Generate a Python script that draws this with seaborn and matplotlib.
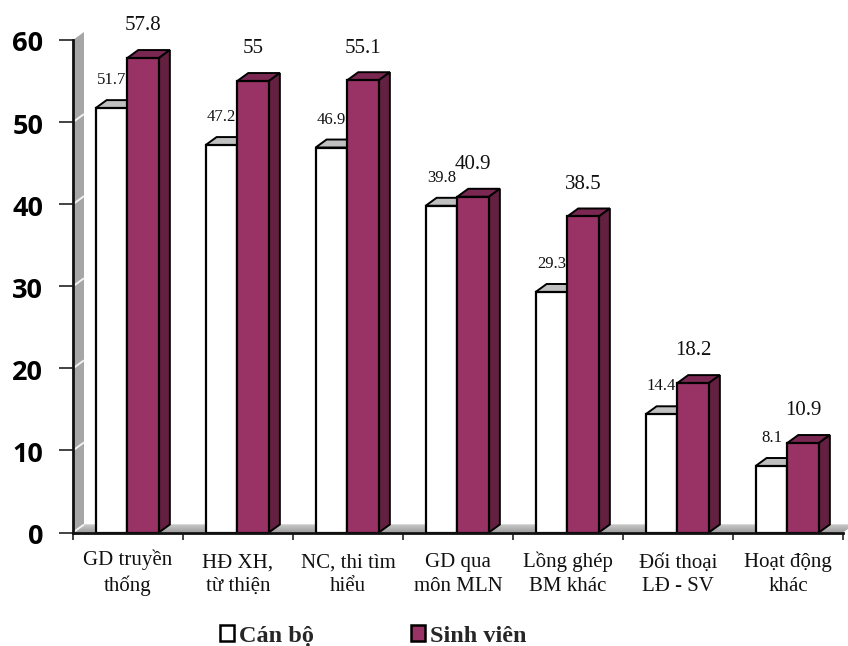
import matplotlib
matplotlib.use("Agg")
import matplotlib.pyplot as plt
from matplotlib.patches import Polygon, Patch
from matplotlib.transforms import ScaledTranslation
import pandas as pd
import seaborn as sns

categories = ["GD truyền\nthống", "HĐ XH,\ntừ thiện", "NC, thi tìm\nhiểu", "GD qua\nmôn MLN",
              "Lồng ghép\nBM khác", "Đối thoại\nLĐ - SV", "Hoạt động\nkhác"]
can_bo = [51.7, 47.2, 46.9, 39.8, 29.3, 14.4, 8.1]
sinh_vien = [57.8, 55, 55.1, 40.9, 38.5, 18.2, 10.9]
series_names = ["Cán bộ", "Sinh viên"]

W, H = 848, 646
LEFT, RIGHT, TOP, BOTTOM = 73, 843, 40, 532.5
DEPTH_X, DEPTH_Y = 11, 8
BAR_SHIFT = 0.007  # bars sit slightly left of the category centre

sns.set_theme(style="white")
plt.rcParams["font.family"] = ["Liberation Serif", "DejaVu Sans"]

fig = plt.figure(figsize=(W / 100, H / 100), dpi=100, facecolor="white")
ax = fig.add_axes([LEFT / W, 1 - BOTTOM / H, (RIGHT - LEFT) / W, (BOTTOM - TOP) / H])

df = pd.DataFrame({
    "category": categories * 2,
    "value": can_bo + sinh_vien,
    "series": [series_names[0]] * len(categories) + [series_names[1]] * len(categories),
})
sns.barplot(data=df, x="category", y="value", hue="series", hue_order=series_names,
            palette=["white", "#993366"], width=0.575, gap=0, saturation=1,
            edgecolor="black", linewidth=1.6, legend=False, ax=ax, zorder=5)

x_lo, x_hi = -0.5 + BAR_SHIFT, 6.5 + BAR_SHIFT
ax.set_xlim(x_lo, x_hi)
ax.set_ylim(0, 60)
dx = DEPTH_X * 7 / (RIGHT - LEFT)
dy = DEPTH_Y * 60 / (BOTTOM - TOP)

# Back wall with pale gridlines, and the shaded floor of the 3-D frame
ax.add_patch(Polygon([(x_lo, 0), (x_lo + dx, dy), (x_lo + dx, 60 + dy), (x_lo, 60)],
                     closed=True, fc="#a6a6a6", ec="none", clip_on=False, zorder=1))
for tick in range(0, 60, 10):
    ax.plot([x_lo, x_lo + dx], [tick, tick + dy], color="#f2f2f2", lw=1.4,
            clip_on=False, zorder=2, solid_capstyle="butt")
bands = 8
for i in range(bands):
    y0, y1 = dy * i / bands, dy * (i + 1) / bands
    shade = 0.5 + 0.2 * i / (bands - 1)
    ax.add_patch(Polygon([(x_lo + dx * i / bands, y0), (x_hi + dx * i / bands, y0),
                          (x_hi + dx * (i + 1) / bands, y1), (x_lo + dx * (i + 1) / bands, y1)],
                         closed=True, fc=str(shade), ec="none", clip_on=False, zorder=1.5))

# Extruded top and side faces for each bar
face_styles = [("#c0c0c0", "#c0c0c0", 4.1), ("#7a2852", "#632040", 4.5)]
for container, (top_color, side_color, face_z) in zip(ax.containers, face_styles):
    for bar in container:
        x0, x1, h = bar.get_x(), bar.get_x() + bar.get_width(), bar.get_height()
        ax.add_patch(Polygon([(x0, h), (x0 + dx, h + dy), (x1 + dx, h + dy), (x1, h)],
                             closed=True, fc=top_color, ec="black", lw=1.4, clip_on=False, zorder=face_z))
        ax.add_patch(Polygon([(x1, 0), (x1 + dx, dy), (x1 + dx, h + dy), (x1, h)],
                             closed=True, fc=side_color, ec="black", lw=1.4, clip_on=False, zorder=face_z))
        bar.set_clip_on(False)
        bar.set_zorder(face_z + 0.2)

ax.bar_label(ax.containers[0], labels=[f"{v:g}" for v in can_bo], padding=14.3,
             fontsize=12, color="#111111", zorder=7)
ax.bar_label(ax.containers[1], labels=[f"{v:g}" for v in sinh_vien], padding=16.3,
             fontsize=15, color="#111111", zorder=7)

ax.set_xlabel("")
ax.set_ylabel("")
ax.set_yticks(range(0, 61, 10))
ax.set_xticks([x_lo + i for i in range(8)])
ax.set_xticklabels([])
ax.set_xticks([i + BAR_SHIFT for i in range(7)], categories, minor=True)
ax.tick_params(axis="x", which="major", bottom=True, length=5, width=1.2, color="#222222")
ax.tick_params(axis="x", which="minor", bottom=False, length=0, pad=42, labelsize=15, labelcolor="#111111")
# Baseline alignment keeps both text rows level across categories despite stacked diacritics
for label in ax.get_xticklabels(minor=True):
    label.set_linespacing(1.32)
    label.set_verticalalignment("baseline")
ax.tick_params(axis="y", left=True, length=10, width=1.2, color="#222222", pad=11.3)
nudge_down = ScaledTranslation(0, -1.5 / 100, fig.dpi_scale_trans)
for label in ax.get_yticklabels():
    label.set_fontfamily("Open Sans")
    label.set_fontweight("bold")
    label.set_fontsize(19.5)
    label.set_color("black")
    label.set_transform(label.get_transform() + nudge_down)

for name, spine in ax.spines.items():
    spine.set_visible(name in ("left", "bottom"))
    spine.set_linewidth(2)
    spine.set_color("#111111")
    spine.set_zorder(6)

handles = [Patch(fc="white", ec="black", lw=1.8), Patch(fc="#993366", ec="black", lw=1.8)]
fig.legend(handles, series_names, ncol=2, frameon=False, loc="center left",
           bbox_to_anchor=(198 / W, 1 - 636 / H), handlelength=0.58, handleheight=0.58,
           handletextpad=0.2, columnspacing=4.0,
           prop={"family": "Liberation Serif", "weight": "bold", "size": 17.5})

fig.savefig("out.png", dpi=100, facecolor="white")
